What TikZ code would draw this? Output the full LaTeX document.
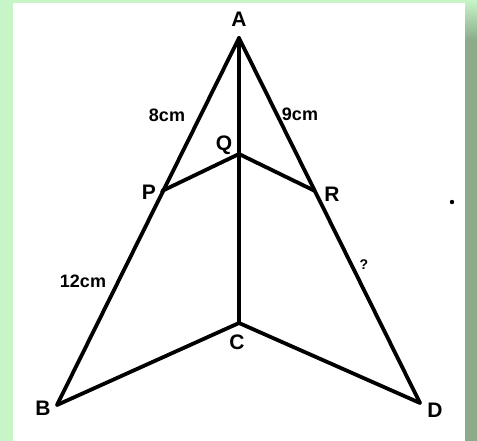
\documentclass[tikz,border=0pt]{standalone}
\usepackage{fontspec}
\setmainfont{Liberation Sans}
\usepackage{tikz}
\usetikzlibrary{calc}
\definecolor{framegreen}{HTML}{C8F5C8}
\definecolor{shadegreen}{HTML}{8BAB8B}
\definecolor{ink}{HTML}{000000}
\tikzset{
  edge/.style  ={draw=ink,line width=3.8pt,line join=miter,line cap=round},
  pname/.style ={font=\fontsize{21}{21}\selectfont\bfseries,inner sep=0pt},
  len/.style   ={font=\fontsize{18}{18}\selectfont\bfseries,inner sep=0pt},
  qmark/.style ={font=\fontsize{14}{14}\selectfont\bfseries,inner sep=0pt}
}
\begin{document}
\begin{tikzpicture}[x=1pt,y=-1pt]
    % frame
    \useasboundingbox (0,0) rectangle (477,441);
    \fill[framegreen] (0,0) rectangle (477,441);
    \fill[shadegreen] (465,40) rectangle (477,441);
    \shade[top color=framegreen,bottom color=shadegreen] (465,0) rectangle (477,40);
    \fill[white] (13,3) rectangle (465,441);
    % points
    \coordinate (A) at (239,38);
    \coordinate (Q) at (239,154);
    \coordinate (P) at (162,191);
    \coordinate (R) at (315,191);
    \coordinate (C) at (239,323);
    \coordinate (B) at (57,405);
    \coordinate (D) at (420,403);
    \draw[edge] (A) -- (B); \draw[edge] (A) -- (D); \draw[edge] (A) -- (C);
    \draw[edge] (P) -- (Q) -- (R); \draw[edge] (B) -- (C) -- (D);
    % names
    \node[pname] (lA) at (239,19) {A};
    \node[pname] (lQ) at (224,145) {Q};
    \node[pname] (lP) at (149,192) {P};
    \node[pname] (lR) at (332,194) {R};
    \node[pname] (lC) at (237,342) {C};
    \node[pname] (lB) at (43,408) {B};
    \node[pname] (lD) at (435,410) {D};
    % lengths
    \node[len] (lAP) at (167,115) {8cm};
    \node[len] (lAR) at (300,114) {9cm};
    \node[len] (lPB) at (83,281) {12cm};
    \node[qmark] (lRD) at (364,265) {?};
    \fill[ink] (452,202) circle (2.2);
  \end{tikzpicture}
\end{document}
